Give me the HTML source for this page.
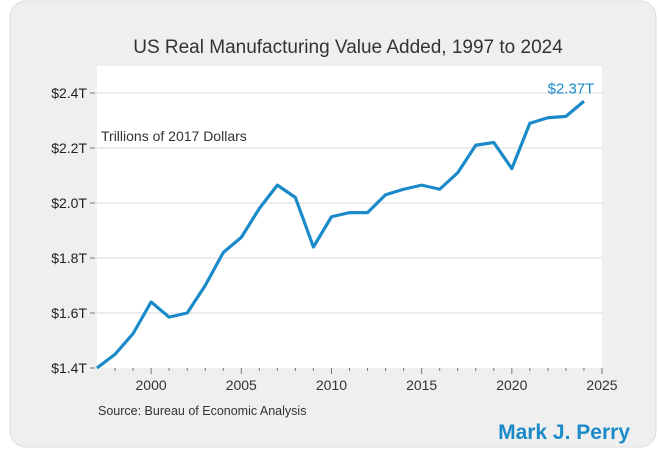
<!DOCTYPE html>
<html><head><meta charset="utf-8"><style>
body{margin:0;background:#fff;width:658px;height:453px;overflow:hidden;font-family:"Liberation Sans",sans-serif}
</style></head><body>
<svg width="658" height="453">
<rect x="10" y="1" width="646" height="446" rx="16" fill="#efefef" stroke="#dcdcdc"/>
<text x="348" y="53" text-anchor="middle" font-size="19" fill="#333">US Real Manufacturing Value Added, 1997 to 2024</text>
<rect x="97" y="66" width="505" height="302" fill="#fff"/>
<g id="grid"></g><g id="yax"></g><g id="xax"></g>
<text x="101" y="141" font-size="14" fill="#333">Trillions of 2017 Dollars</text>
<polyline id="line" fill="none" stroke="#1a8ac9" stroke-width="3.2" stroke-linejoin="round"/>
<text id="endlab" font-size="15" fill="#1a8ac9" text-anchor="middle">$2.37T</text>
<text x="98" y="415" font-size="12.5" fill="#333">Source: Bureau of Economic Analysis</text>
<text x="630" y="439" text-anchor="end" font-size="21" font-weight="bold" fill="#1a8ac9">Mark J. Perry</text>
</svg>
<script>
const years=[1997,1998,1999,2000,2001,2002,2003,2004,2005,2006,2007,2008,2009,2010,2011,2012,2013,2014,2015,2016,2017,2018,2019,2020,2021,2022,2023,2024];
const values=[1.40,1.45,1.525,1.64,1.585,1.60,1.70,1.82,1.875,1.98,2.065,2.02,1.84,1.95,1.965,1.965,2.03,2.05,2.065,2.05,2.11,2.21,2.22,2.125,2.29,2.31,2.315,2.37];
const yTicks=[1.4,1.6,1.8,2.0,2.2,2.4];
const xTicks=[2000,2005,2010,2015,2020,2025];
const ns="http://www.w3.org/2000/svg";
const X=y=>97+(y-1997)*(505/28);
const Y=v=>368-(v-1.4)*275;
function mk(t,a,p){const e=document.createElementNS(ns,t);for(const k in a)e.setAttribute(k,a[k]);p.appendChild(e);return e;}
const grid=document.getElementById('grid'),yax=document.getElementById('yax'),xax=document.getElementById('xax');
yTicks.forEach(v=>{
 if(v>1.4){const g=mk('line',{x1:97,x2:602,y1:Y(v),y2:Y(v),stroke:'#e6e6e6','stroke-width':1.5},grid);
 
 }
 const t=mk('line',{x1:90,x2:95,y1:Y(v),y2:Y(v),stroke:'#777'},yax);
 
 
 const l=mk('text',{x:87,y:Y(v)+5,'text-anchor':'end','font-size':14,fill:'#222'},yax);
 l.textContent='$'+v.toFixed(1)+'T';
 
 
});
for(let yr=1998;yr<=2025;yr++){
 const maj=yr%5===0;
 const t=mk('line',{x1:X(yr),x2:X(yr),y1:368,y2:maj?374:371,stroke:'#777'},xax);
 
 
}
xTicks.forEach(yr=>{
 const l=mk('text',{x:X(yr),y:390,'text-anchor':'middle','font-size':14,fill:'#333'},xax);
 l.textContent=yr;
 
 
});
document.getElementById('line').setAttribute('points',years.map((y,i)=>X(y)+','+Y(values[i])).join(' '));
const el=document.getElementById('endlab');
el.setAttribute('x',X(years[years.length-1])-13);
el.setAttribute('y',Y(values[values.length-1])-8);
el.textContent='$'+values[values.length-1].toFixed(2)+'T';
</script>
</body></html>
